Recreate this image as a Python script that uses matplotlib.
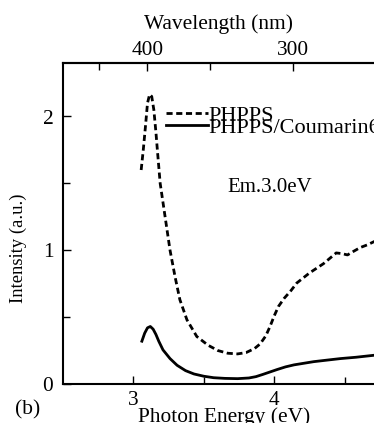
import matplotlib
matplotlib.use("Agg")
import matplotlib.pyplot as plt
import numpy as np
from matplotlib.ticker import MultipleLocator, FixedLocator

plt.rcParams['font.family'] = ['Liberation Serif', 'DejaVu Serif']

# PHPPS (dashed)
e_phpps = [3.055, 3.07, 3.085, 3.10, 3.115, 3.13, 3.145, 3.16, 3.17, 3.19, 3.225,
           3.26, 3.296, 3.33, 3.38, 3.45, 3.53, 3.60, 3.67, 3.74, 3.80, 3.86, 3.90,
           3.94, 3.97, 4.00, 4.03, 4.07, 4.12, 4.16, 4.25, 4.35, 4.44, 4.48, 4.52,
           4.56, 4.61, 4.66, 4.71, 4.80]
i_phpps = [1.60, 1.75, 1.92, 2.10, 2.165, 2.15, 2.05, 1.88, 1.75, 1.50, 1.25,
           1.00, 0.80, 0.63, 0.48, 0.355, 0.29, 0.25, 0.23, 0.225, 0.235, 0.265, 0.30,
           0.36, 0.43, 0.51, 0.58, 0.64, 0.70, 0.755, 0.83, 0.90, 0.98, 0.975, 0.965,
           0.99, 1.02, 1.04, 1.065, 1.10]

# PHPPS/Coumarin6 (solid)
e_cou = [3.06, 3.08, 3.10, 3.12, 3.14, 3.16, 3.18, 3.21, 3.26, 3.31, 3.37, 3.43,
         3.50, 3.57, 3.65, 3.74, 3.82, 3.87, 3.92, 3.97, 4.02, 4.08, 4.14, 4.21,
         4.28, 4.37, 4.47, 4.58, 4.71, 4.80]
i_cou = [0.32, 0.38, 0.42, 0.43, 0.41, 0.37, 0.32, 0.255, 0.19, 0.14, 0.10, 0.075,
         0.058, 0.047, 0.042, 0.04, 0.045, 0.055, 0.072, 0.09, 0.108, 0.128, 0.143, 0.155,
         0.167, 0.178, 0.19, 0.20, 0.215, 0.22]

fig = plt.figure(figsize=(3.74, 4.23), dpi=100)
ax = fig.add_axes([63 / 374, 39 / 423, 338 / 374, 321 / 423])

ax.plot(e_phpps, i_phpps, color='black', lw=2, ls=(0, (2.2, 1.3)), label='PHPPS')
ax.plot(e_cou, i_cou, color='black', lw=2, label='PHPPS/Coumarin6')

ax.set_xlim(2.5, 4.9)
ax.set_ylim(0, 2.4)
ax.xaxis.set_major_locator(FixedLocator([3, 4]))
ax.xaxis.set_minor_locator(FixedLocator([3.5, 4.5]))
ax.yaxis.set_major_locator(MultipleLocator(1))
ax.yaxis.set_minor_locator(MultipleLocator(0.5))
ax.tick_params(which='both', direction='in', width=1, labelsize=15.4)
ax.tick_params(which='major', length=6)
ax.tick_params(which='minor', length=5)
ax.tick_params(axis='x', pad=5)
ax.tick_params(axis='y', pad=7)
for s in ax.spines.values():
    s.set_linewidth(1.5)

ax.set_xlabel('Photon Energy (eV)', fontsize=15.4)
ax.xaxis.set_label_coords((224 - 63) / 338, -0.071)
ax.set_ylabel('Intensity (a.u.)', fontsize=13.4)
ax.yaxis.set_label_coords(-0.106, (423 - 248 - 39) / 321)

top = ax.secondary_xaxis('top', functions=(lambda e: 1239.84 / np.asarray(e, float),
                                            lambda w: 1239.84 / np.asarray(w, float)))
top.xaxis.set_major_locator(FixedLocator([400, 300]))
top.xaxis.set_minor_locator(FixedLocator([450, 350, 250]))
top.tick_params(which='both', direction='in', width=1, labelsize=15.4, pad=2)
top.tick_params(which='major', length=6)
top.tick_params(which='minor', length=5)
top.spines['top'].set_linewidth(1.5)
fig.text(219 / 374, 1 - 24 / 423, 'Wavelength (nm)', fontsize=15.4, ha='center', va='center')

ax.legend(loc='upper left', bbox_to_anchor=(0.305, 0.8675), frameon=False, fontsize=16,
          handlelength=1.9, handletextpad=0.0, labelspacing=-0.41, borderpad=0,
          borderaxespad=0)
ax.text(3.67, 1.47, 'Em.3.0eV', fontsize=15, va='center', ha='left')
fig.text(15 / 374, 1 - 410 / 423, '(b)', fontsize=15.4, va='center', ha='left')

fig.savefig('out.png', dpi=100)
